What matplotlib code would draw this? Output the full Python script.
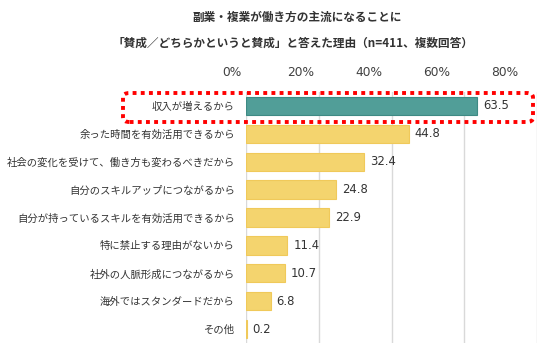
import matplotlib
matplotlib.use("Agg")
import matplotlib.pyplot as plt
from matplotlib.patches import FancyBboxPatch

plt.rcParams['font.family'] = ['Noto Sans CJK JP', 'DejaVu Sans']

categories = ["収入が増えるから", "余った時間を有効活用できるから", "社会の変化を受けて、働き方も変わるべきだから",
              "自分のスキルアップにつながるから", "自分が持っているスキルを有効活用できるから",
              "特に禁止する理由がないから", "社外の人脈形成につながるから", "海外ではスタンダードだから", "その他"]
values = [63.5, 44.8, 32.4, 24.8, 22.9, 11.4, 10.7, 6.8, 0.2]
xticks = [0, 20, 40, 60, 80]
xticklabels = ["0%", "20%", "40%", "60%", "80%"]

W, H = 554, 351
fig = plt.figure(figsize=(W/100, H/100), dpi=100)
ax = fig.add_axes([246/W, 1-343/H, (537-246)/W, (343-92)/H])

colors = ["#519E98"] + ["#F4D46E"] * (len(values) - 1)
edges = ["#3E8A84"] + ["#F0C95A"] * (len(values) - 1)
y = list(range(len(values)))
ax.barh(y, values, height=0.66, color=colors, edgecolor=edges, linewidth=0.8, zorder=3)
ax.set_ylim(len(values) - 0.5, -0.5)
ax.set_xlim(0, 80)
ax.set_xticks(xticks)
ax.set_xticklabels([])
ax.tick_params(axis='x', length=0, top=False, bottom=False, labeltop=False, labelbottom=False)
ax.set_yticks(y)
ax.set_yticklabels(categories, fontsize=7.45, color="#333333")
ax.tick_params(axis='y', length=0, pad=8)
ax.grid(axis='x', color="#D9D9D9", linewidth=1, zorder=0)
for s in ax.spines.values():
    s.set_visible(False)

# tick label axis (labels in the reference are spaced slightly narrower than the gridlines)
lab = fig.add_axes([232/W, 1-92/H, (505-232)/W, 0.001])
lab.set_xlim(0, 80)
lab.set_xticks(xticks)
lab.set_xticklabels(xticklabels, fontfamily='DejaVu Sans', fontsize=8.8, color="#404040")
lab.xaxis.tick_top()
lab.tick_params(axis='x', length=0, pad=9)
lab.set_yticks([])
lab.patch.set_visible(False)
for s in lab.spines.values():
    s.set_visible(False)

for yi, v in zip(y, values):
    ax.text(v + 1.6, yi, f"{v:.1f}", va='center', ha='left', fontsize=8.4,
            fontfamily='DejaVu Sans', color="#333333", zorder=4)

fig.text(297/W, 1-17/H, "副業・複業が働き方の主流になることに", ha='center', va='center',
         fontsize=8.4, fontweight='bold', color="#333333")
fig.text(293/W, 1-43/H, "「賛成／どちらかというと賛成」と答えた理由（n=411、複数回答）", ha='center', va='center',
         fontsize=8.4, fontweight='bold', color="#333333")

box = FancyBboxPatch((123/W, 1-122/H), (533-123)/W, (122-93)/H,
                     boxstyle="round,pad=0,rounding_size=0.012", transform=fig.transFigure,
                     fill=False, edgecolor="#FF0000", linewidth=2.8, linestyle=(0, (1, 1.1)), zorder=10)
fig.patches.append(box)

fig.savefig("out.png", dpi=100)
